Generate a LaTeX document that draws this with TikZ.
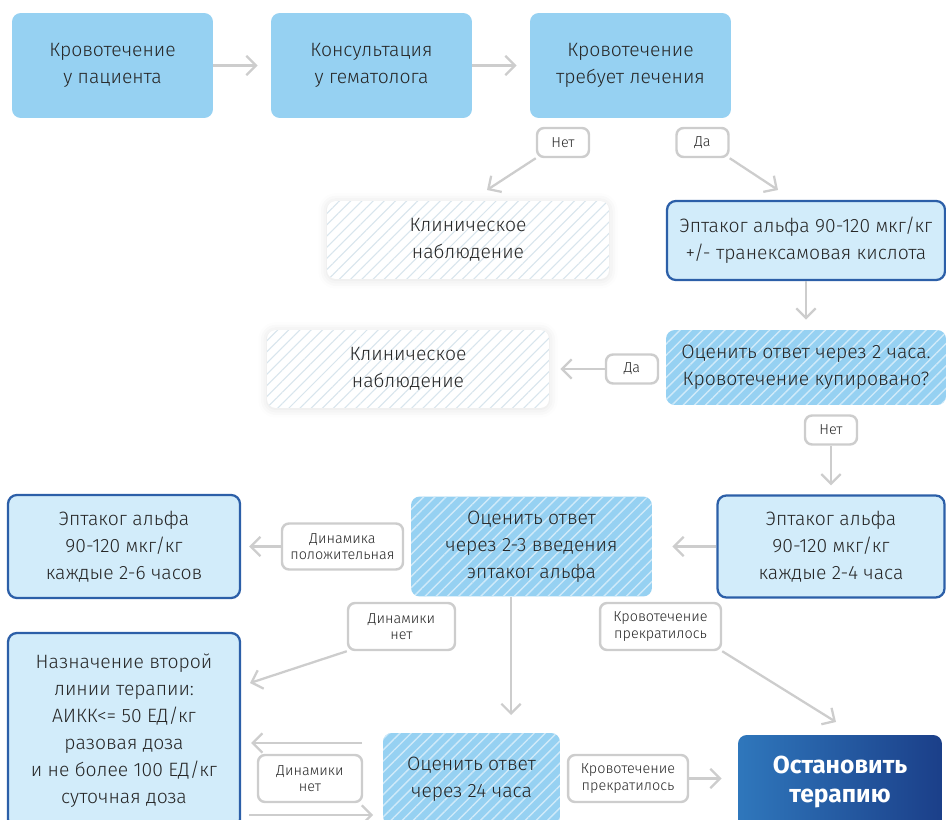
\documentclass[tikz,border=0pt]{standalone}
\usepackage{fontspec}
\IfFontExistsTF{Fira Sans Light}
    {\setmainfont{Fira Sans Light}}
    {\setmainfont{Fira Sans}}
\newfontfamily\stopfont{Fira Sans}
\usetikzlibrary{arrows.meta, patterns.meta, shadows.blur, calc}

\definecolor{skyblue}{HTML}{96D1F2}
\definecolor{paleblue}{HTML}{D2ECFA}
\definecolor{darkblue}{HTML}{2C5FA8}
\definecolor{hatchgray}{HTML}{D8E5ED}
\definecolor{linegray}{HTML}{CDCDCD}
\definecolor{textgray}{HTML}{262626}
\definecolor{stopleft}{HTML}{2F77BC}
\definecolor{stopright}{HTML}{1B3F89}

\begin{document}
\begin{tikzpicture}[x=0.02cm, y=-0.02cm,
    every node/.style={text=textgray, align=center, inner sep=0pt,
        font=\fontsize{11}{15.3}\selectfont},
    plain/.style={rounded corners=5pt, fill=skyblue},
    drug/.style={rounded corners=5pt, fill=paleblue, draw=darkblue, line width=1.3pt},
    evalbox/.style={rounded corners=5pt, fill=skyblue,
        postaction={pattern={Lines[angle=45, distance=4.5pt, line width=0.8pt]},
        pattern color=white!55!skyblue}},
    watch/.style={rounded corners=5pt, fill=white,
        blur shadow={shadow xshift=0pt, shadow yshift=-0.5pt,
        shadow blur radius=5pt, shadow opacity=12},
        postaction={pattern={Lines[angle=45, distance=4.5pt, line width=0.6pt]},
        pattern color=hatchgray}},
    tag/.style={rounded corners=4pt, fill=white, draw=linegray, line width=1.4pt,
        font=\fontsize{8.2}{9.4}\selectfont},
    stopbox/.style={rounded corners=5pt, left color=stopleft, right color=stopright,
        text=white, font=\stopfont\bfseries\fontsize{14}{16.5}\selectfont},
    arr/.style={draw=linegray, line width=1.3pt,
        -{Straight Barb[length=5.5pt, width=11pt]}}]

    \useasboundingbox (0,0) rectangle (946,820);

    % top row
    \node[plain, minimum width=4.02cm, minimum height=2.1cm] (bleed) at (112.5,65.5) {Кровотечение\\у пациента};
    \node[plain, minimum width=4.02cm, minimum height=2.1cm] (consult) at (371.5,65.5) {Консультация\\у гематолога};
    \node[plain, minimum width=4.02cm, minimum height=2.1cm] (treat) at (630.5,65.5) {Кровотечение\\требует лечения};

    \node[watch, minimum width=5.64cm, minimum height=1.56cm] (watchA) at (468,240) {Клиническое\\наблюдение};
    \node[drug, minimum width=5.56cm, minimum height=1.58cm] (drugA) at (806,240.5) {Эптаког альфа 90-120 мкг/кг\\+/- транексамовая кислота};
    \node[evalbox, minimum width=5.6cm, minimum height=1.5cm] (evalA) at (806,367.5) {Оценить ответ через 2 часа.\\Кровотечение купировано?};
    \node[watch, minimum width=5.64cm, minimum height=1.56cm] (watchB) at (408,369) {Клиническое\\наблюдение};

    \node[drug, minimum width=4.54cm, minimum height=2.04cm] (drugB) at (831,546.5) {Эптаког альфа\\90-120 мкг/кг\\каждые 2-4 часа};
    \node[evalbox, minimum width=4.82cm, minimum height=2cm] (evalB) at (531.5,546.5) {Оценить ответ\\через 2-3 введения\\эптаког альфа};
    \node[drug, minimum width=4.64cm, minimum height=2.06cm] (drugC) at (124,546.5) {Эптаког альфа\\90-120 мкг/кг\\каждые 2-6 часов};

    % bottom part
    \node[drug, minimum width=4.64cm, minimum height=3.9cm] (second) at (124,730.5) {Назначение второй\\линии терапии:\\АИКК<= 50 ЕД/кг\\разовая доза\\и не более 100 ЕД/кг\\суточная доза};
    \node[evalbox, minimum width=3.54cm, minimum height=1.84cm] (evalC) at (471.5,779) {Оценить ответ\\через 24 часа};
    \node[stopbox, minimum width=4.08cm, minimum height=1.88cm] (stop) at (840,782) {Остановить\\терапию};

    % answers
    \node[tag, minimum width=1.04cm, minimum height=0.58cm] (noA) at (563,142.5) {Нет};
    \node[tag, minimum width=1.04cm, minimum height=0.58cm] (yesA) at (702.5,142.5) {Да};
    \node[tag, minimum width=1.04cm, minimum height=0.58cm] (yesB) at (632,369) {Да};
    \node[tag, minimum width=1.04cm, minimum height=0.58cm] (noB) at (831,430) {Нет};
    \node[tag, minimum width=2.42cm, minimum height=0.92cm] (dynPos) at (342.5,546.5) {Динамика\\положительная};
    \node[tag, minimum width=2.14cm, minimum height=0.94cm] (dynNoA) at (401.5,626.5) {Динамики\\нет};
    \node[tag, minimum width=2.42cm, minimum height=0.94cm] (stoppedA) at (660.5,626.5) {Кровотечение\\прекратилось};
    \node[tag, minimum width=2.08cm, minimum height=0.94cm] (dynNoB) at (310,778.5) {Динамики\\нет};
    \node[tag, minimum width=2.4cm, minimum height=0.94cm] (stoppedB) at (628,778.5) {Кровотечение\\прекратилось};

    \coordinate (watchAin) at (487,190);
    \coordinate (drugAin) at (778,190);
    \coordinate (secondin) at (250,683);
    \coordinate (evalCin) at (511,715);
    \coordinate (stopin) at (836,722);
    \coordinate (backA) at (362,743);
    \coordinate (fwdA) at (373,815);

    \draw[arr, shorten >=0.26cm] (bleed) -- (consult);
    \draw[arr, shorten >=0.26cm] (consult) -- (treat);
    \draw[arr] (noA.south west) -- (watchAin);
    \draw[arr] (yesA.south east) -- (drugAin);
    \draw[arr, shorten >=0.2cm] (drugA) -- (evalA);
    \draw[arr, shorten >=0.22cm] (yesB) -- (watchB);
    \draw[arr, shorten >=0.18cm] (noB) -- (drugB);
    \draw[arr, shorten >=0.4cm] (drugB) -- (evalB);
    \draw[arr, shorten >=0.16cm] (dynPos) -- (drugC);
    \draw[arr] (dynNoA.south west) -- (secondin);
    \draw[arr] (evalB.south -| evalCin) -- (evalCin);
    \draw[arr] (stoppedA.south east) -- (stopin);
    \draw[arr, shorten >=0.2cm] (backA) -- (backA -| second.east);
    \draw[arr, shorten <=0.16cm] (second.east |- fwdA) -- (fwdA);
    \draw[arr, shorten >=0.32cm] (stoppedB) -- (stoppedB -| stop.west);
\end{tikzpicture}
\end{document}
